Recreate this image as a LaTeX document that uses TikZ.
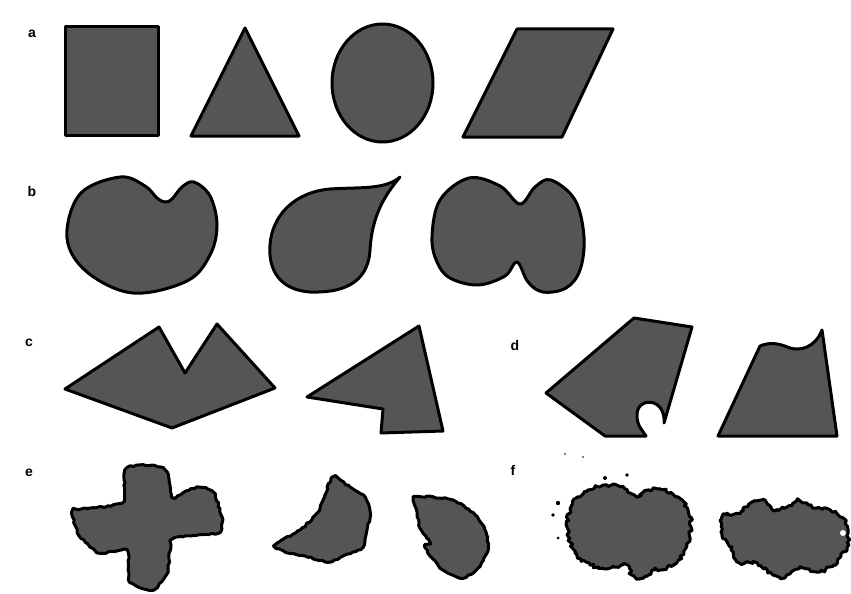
\documentclass[tikz,border=0pt]{standalone}
\usepackage{fontspec}
\setmainfont{Liberation Sans}
\usetikzlibrary{decorations.pathmorphing}
\definecolor{shapegray}{RGB}{85,85,85}
\tikzset{
  blob/.style={fill=shapegray, draw=black, line width=3pt, line join=round},
  rough/.style={blob, decorate, decoration={random steps, segment length=3pt, amplitude=0.8pt}},
  spiky/.style={blob, decorate, decoration={random steps, segment length=2.5pt, amplitude=1.8pt}},
  lbl/.style={font=\fontsize{14}{14}\selectfont\bfseries, inner sep=0pt},
  speck/.style={fill=black, draw=none}
}
\pgfmathsetseed{7}
\begin{document}
\begin{tikzpicture}[x=1pt,y=-1pt]
\useasboundingbox[fill=white] (0,0) rectangle (851,594);
% labels
\node[lbl] (la) at (32,34) {a};
\node[lbl] (lb) at (32,191) {b};
\node[lbl] (lc) at (29,343) {c};
\node[lbl] (ld) at (515,345) {d};
\node[lbl] (le) at (29,473) {e};
\node[lbl] (lf) at (513,470) {f};
% row a
\draw[blob] (65,27) rectangle (158,135);
\draw[blob] (245,28) -- (299,136) -- (191,136) -- cycle;
\draw[blob] (382.5,83) ellipse [x radius=50.5, y radius=59];
\draw[blob] (517,29) -- (613,29) -- (562,137) -- (463,137) -- cycle;
% row b
\draw[blob] plot[smooth cycle, tension=0.6] coordinates {(67,238) (80,194) (120,177) (145,186) (157,198) (165,202) (172,199) (182,187) (194,182) (210,196) (217,225) (210,255) (187,281) (133,293) (87,272)};
\draw[blob] (400,177) .. controls (385,195) and (372,215) .. (370,250) .. controls (368,285) and (340,293) .. (310,292) .. controls (280,290) and (268,270) .. (270,245) .. controls (272,215) and (295,192) .. (330,189) .. controls (360,187) and (385,190) .. (400,177) -- cycle;
\draw[blob] plot[smooth cycle, tension=0.6] coordinates {(432,237) (440,200) (469,178) (500,186) (520,204) (535,187) (551,180) (575,200) (584,237) (580,270) (566,288) (543,292) (528,282) (517,262) (505,276) (478,285) (450,278) (437,262)};
% row c
\draw[blob] (65,389) -- (159,327) -- (185,373) -- (217,324) -- (275,388) -- (172,428) -- cycle;
\draw[blob] (307,397) -- (419,326) -- (443,431) -- (381,433) -- (383,409) -- cycle;
% row d
\draw[blob] (546,393) -- (634,318) -- (692,327) -- (664,423) .. controls (666,397) and (636,396) .. (637,416) .. controls (637,426) and (643,431) .. (646,436) -- (605,436) -- cycle;
\draw[blob] (718,436) -- (760,346) .. controls (770,342) and (778,343) .. (790,348) .. controls (800,351) and (815,348) .. (822,330) -- (837,436) -- cycle;
% row e
\draw[rough] plot[smooth cycle, tension=0.3] coordinates {(125,470) (140,465) (160,467) (168,474) (172,497) (197,487) (213,492) (222,517) (218,533) (173,539) (168,572) (153,590) (130,582) (127,550) (100,553) (80,537) (72,515) (75,510) (122,503)};
\draw[rough] plot[smooth cycle, tension=0.4] coordinates {(275,545) (300,530) (317,513) (325,495) (333,477) (350,487) (365,497) (370,512) (367,530) (363,547) (345,555) (328,562) (305,556) (285,552)};
\draw[rough] plot[smooth cycle, tension=0.4] coordinates {(415,497) (453,500) (475,515) (486,532) (488,550) (478,568) (463,578) (443,570) (432,558) (425,547) (430,543) (420,528) (417,512)};
% row f
\draw[spiky] plot[smooth cycle, tension=0.6] coordinates {(567,527) (573,503) (588,490) (607,485) (625,489) (637,497) (645,491) (660,489) (678,497) (688,510) (691,527) (686,548) (673,565) (655,570) (643,578) (632,575) (627,565) (610,568) (590,565) (575,553)};
\draw[spiky] plot[smooth cycle, tension=0.5] coordinates {(722,517) (740,512) (753,502) (763,500) (773,510) (787,507) (797,500) (807,503) (817,508) (830,510) (843,518) (848,530) (847,547) (833,565) (817,572) (800,567) (783,578) (773,575) (757,563) (740,563) (730,547) (722,533)};
\fill[white] (843,533) circle (3);
\fill[speck] (558,503) circle (2.2);
\fill[speck] (553,515) circle (1.8);
\fill[speck] (605,478) circle (2);
\fill[speck] (627,475) circle (1.8);
\fill[speck] (558,538) circle (1.5);
\fill[speck] (583,457) circle (0.8);
\fill[speck] (565,454) circle (0.8);
\end{tikzpicture}
\end{document}
